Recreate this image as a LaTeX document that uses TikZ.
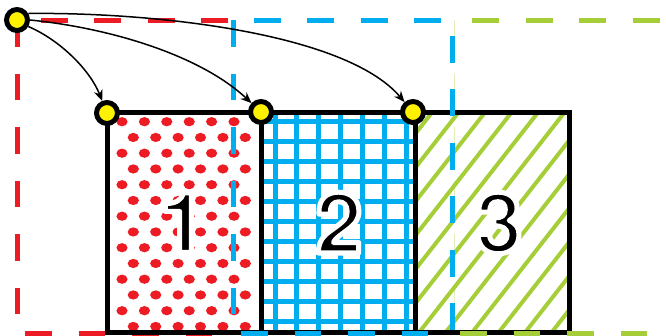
\documentclass[tikz,border=0pt]{standalone}
\usepackage{fontspec}
\setmainfont{Liberation Sans}
\newfontfamily\digitfont{texgyreheros-bold.otf}
\usepackage{tikz}
\usetikzlibrary{
    arrows.meta    % 箭头样式
}

\definecolor{dotred}{RGB}{237,28,36}
\definecolor{gridblue}{RGB}{0,174,239}
\definecolor{hatchgreen}{RGB}{166,206,57}
\definecolor{knobyellow}{RGB}{255,242,0}

% 白色描边的数字
\newcommand{\haloed}[1]{\special{pdf:code 2 Tr 5 w 1 j 1 1 1 RG}#1\special{pdf:code 0 Tr}}

\begin{document}
\begin{tikzpicture}[
    x=1pt, y=-1pt,
    >={Stealth[length=11pt,width=9pt]},
    box/.style={line width=5pt},
    frame/.style={line width=5pt, dash pattern=on 26.75pt off 26.75pt},
    knob/.style={circle, draw=black, fill=knobyellow, line width=5pt,
                 minimum size=21pt, inner sep=0pt},
    digit/.style={anchor=base, inner sep=0pt,
                  font=\digitfont\fontsize{84pt}{84pt}\selectfont}
]
    \useasboundingbox (0,0) rectangle (666,335);
    \clip (0,0) rectangle (666,335);

    % 红色虚线框
    \begin{scope}
        \clip (0,0) rectangle (233,335);
        \draw[frame, dotred] (17,20) rectangle (237.5,333);
    \end{scope}

    % 方块1：红点
    \begin{scope}
        \clip (107,112) rectangle (261,332);
        \foreach \r in {0,...,13} {
            \pgfmathsetmacro{\yy}{121.7+15.75*\r}
            \pgfmathsetmacro{\xs}{122+11.3*mod(\r,2)}
            \foreach \c in {0,...,5}
                \fill[dotred] (\xs+22.4*\c,\yy) circle [x radius=5.6pt, y radius=4.6pt];
        }
    \end{scope}

    % 方块2：蓝色网格
    \begin{scope}
        \clip (261,112) rectangle (415,332);
        \foreach \c in {0,...,6}
            \draw[gridblue, line width=5pt] (275+21.9*\c,100) -- (275+21.9*\c,340);
        \foreach \r in {0,...,10}
            \draw[gridblue, line width=5pt] (250,121+20*\r) -- (420,121+20*\r);
    \end{scope}

    % 方块3：绿色斜线
    \begin{scope}
        \clip (415,112) rectangle (569,332);
        \foreach \a in {-1,...,12}
            \draw[hatchgreen, line width=4pt]
                (430+26.5*\a-175.8,340) -- (430+26.5*\a+11.7,100);
    \end{scope}

    % 方块边框和数字
    \draw[box] (107,112) rectangle (261,332);
    \draw[box] (261,112) rectangle (415,332);
    \draw[box] (415,112) rectangle (569,332);
    \node[digit] (n1) at (183,252.5) {\haloed{1}};
    \node[digit] (n2) at (339,253) {\haloed{2}};
    \node[digit] (n3) at (499,253) {\haloed{3}};

    % 绿色、蓝色虚线框
    \begin{scope}
        \clip (454.5,0) rectangle (666,335);
        \draw[frame, hatchgreen] (452,20) rectangle (697.5,333);
    \end{scope}
    \draw[frame, gridblue] (233,20) rectangle (452,333);

    % 黄色圆点
    \node[knob] (src) at (17,20) {};
    \node[knob] (k1) at (107,113) {};
    \node[knob] (k2) at (261,112) {};
    \node[knob] (k3) at (413,112) {};

    % 箭头
    \draw[->, line width=1.5pt] (src.-30) .. controls (60,40) and (90,70) .. (k1);
    \draw[->, line width=1.5pt] (src.0) .. controls (110,28) and (200,55) .. (k2);
    \draw[->, line width=1.5pt] (src.30) .. controls (150,12) and (345,32) .. (k3);
\end{tikzpicture}
\end{document}
